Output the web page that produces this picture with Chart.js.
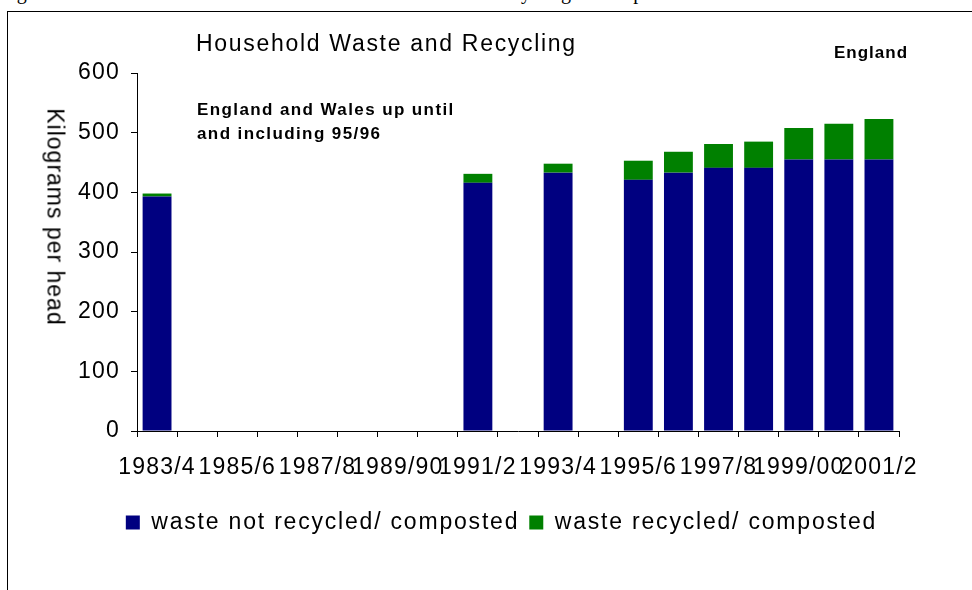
<!DOCTYPE html>
<html>
<head>
<meta charset="utf-8">
<script src="https://cdn.jsdelivr.net/npm/chart.js@4.4.1/dist/chart.umd.min.js"></script>
<style>
  html, body { margin: 0; padding: 0; background: #ffffff; }
  body { width: 972px; height: 590px; position: relative; overflow: hidden; }
  #c { position: absolute; left: 0; top: 0; }
  .frame { position: absolute; left: 7px; top: 11px; width: 1200px; height: 1200px;
           border-left: 1px solid #000; border-top: 1px solid #000; }
  .txt { position: absolute; white-space: nowrap; color: #000; font-family: "Liberation Sans", Arial, sans-serif; }
</style>
</head>
<body>
<div class="txt" style="left:0px; top:-19px; font-family:'Liberation Serif', serif; font-size:20px;">Figure 1: Trends in household and other household waste and recycling and disposal of household waste</div>
<div class="frame"></div>
<canvas id="c" width="972" height="590"></canvas>
<div class="txt" style="left:196px; top:30px; font-size:23px; letter-spacing:1.7px;">Household Waste and Recycling</div>
<div class="txt" style="left:834px; top:43px; font-size:17px; font-weight:bold; letter-spacing:1px;">England</div>
<div class="txt" style="left:197px; top:98px; font-size:17px; font-weight:bold; letter-spacing:1.4px; line-height:24px;">England and Wales up until<br>and including 95/96</div>
<div class="txt" style="left:55px; top:217px; font-size:23px; letter-spacing:1px; transform: translate(-50%, -50%) rotate(90deg);">Kilograms per head</div>
<script>
const categories = ['1983/4','1984/5','1985/6','1986/7','1987/8','1988/9','1989/90','1990/1','1991/2','1992/3','1993/4','1994/5','1995/6','1996/7','1997/8','1998/9','1999/00','2000/01','2001/2'];
const notRecycled = [393, null, null, null, null, null, null, null, 416, null, 433, null, 421, 433, 441, 441, 455, 455, 455];
const recycled    = [5,   null, null, null, null, null, null, null, 15,  null, 15,  null, 32,  35,  40,  44,  53,  60,  68];
const seriesNames = ['waste not recycled/ composted', 'waste recycled/ composted'];
const yTicks = [0, 100, 200, 300, 400, 500, 600];

const AXIS_SPACING = '1.2px';
const LEGEND_SPACING = '1.8px';

const spacingPlugin = {
  id: 'spacing',
  afterInit(chart) {
    const lg = chart.legend;
    if (lg && !lg._wrapped) {
      const oFit = lg.fit.bind(lg);
      const oDraw = lg.draw.bind(lg);
      lg.fit = function() { const ctx = this.ctx; const prev = ctx.letterSpacing; ctx.letterSpacing = LEGEND_SPACING; oFit(); ctx.letterSpacing = prev; };
      lg.draw = function() { const ctx = this.ctx; const prev = ctx.letterSpacing; ctx.letterSpacing = LEGEND_SPACING; oDraw(); ctx.letterSpacing = prev; };
      lg._wrapped = true;
    }
  },
  beforeLayout(chart) { chart.ctx.letterSpacing = AXIS_SPACING; },
  afterLayout(chart) {
    const lg = chart.legend;
    if (lg) { lg.left += 52; lg.right += 52; }
  },
  beforeDraw(chart) { chart.ctx.letterSpacing = AXIS_SPACING; }
};

const axisFont = { family: "'Liberation Sans', Arial, sans-serif", size: 23 };
const legendFont = { family: "'Liberation Sans', Arial, sans-serif", size: 23 };

new Chart(document.getElementById('c'), {
  type: 'bar',
  data: {
    labels: categories,
    datasets: [
      { label: seriesNames[0], data: notRecycled, backgroundColor: '#000080', borderWidth: 0,
        barPercentage: 0.72, categoryPercentage: 1.0 },
      { label: seriesNames[1], data: recycled, backgroundColor: '#008000', borderWidth: 0,
        barPercentage: 0.72, categoryPercentage: 1.0 }
    ]
  },
  options: {
    responsive: false,
    animation: false,
    devicePixelRatio: 1,
    layout: { padding: { left: 0, top: 73, right: 73, bottom: 46 } },
    plugins: {
      title: { display: false },
      tooltip: { enabled: false },
      legend: {
        position: 'bottom',
        align: 'center',
        labels: { font: legendFont, color: '#000', boxWidth: 14, boxHeight: 14, padding: 10 }
      }
    },
    scales: {
      x: {
        stacked: true,
        offset: true,
        grid: { display: true, drawOnChartArea: false, drawTicks: true, tickLength: 6, offset: true, color: '#000' },
        border: { display: true, color: '#000', width: 1 },
        ticks: {
          autoSkip: false, maxRotation: 0, minRotation: 0, color: '#000', font: axisFont, padding: 17,
          callback: function(v, i) { return i % 2 === 0 ? categories[i] : ''; }
        },
        afterFit(scale) { scale.height = 70; }
      },
      y: {
        stacked: true,
        min: 0, max: 600,
        afterBuildTicks(scale) { scale.ticks = yTicks.map(v => ({ value: v })); },
        grid: { display: true, drawOnChartArea: false, drawTicks: true, tickLength: 6, color: '#000' },
        border: { display: true, color: '#000', width: 1 },
        ticks: { color: '#000', font: axisFont, padding: 11 },
        afterFit(scale) { scale.width = 137; }
      }
    }
  },
  plugins: [spacingPlugin]
});
</script>
</body>
</html>
